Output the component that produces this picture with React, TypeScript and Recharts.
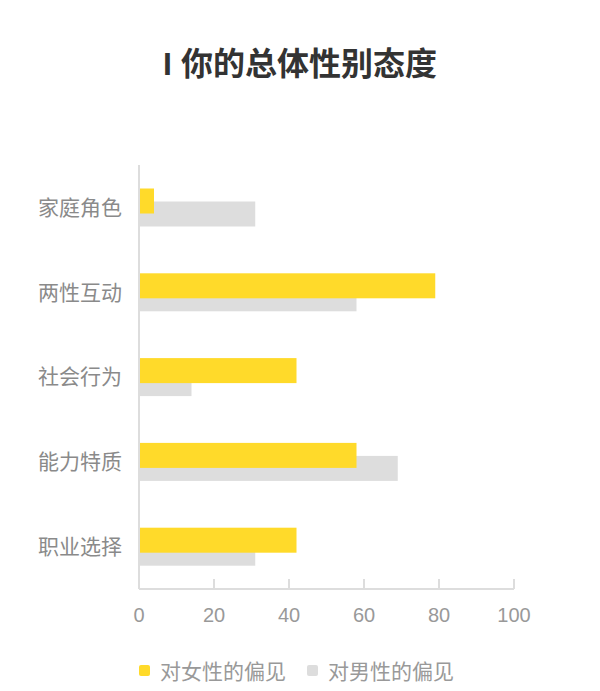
import React from 'react';
import { BarChart, Bar, XAxis, YAxis } from 'recharts';

// 分类与数值（自上而下）
const categories = ['家庭角色', '两性互动', '社会行为', '能力特质', '职业选择'];
const femaleBias = [4, 79, 42, 58, 42];
const maleBias = [31, 58, 14, 69, 31];
const xTicks = [0, 20, 40, 60, 80, 100];

const YELLOW = '#FFDA2A';
const GRAY = '#DDDDDD';
const FONT = "'Liberation Sans', 'Noto Sans CJK SC', sans-serif";

const data = categories.map((name, i) => ({
  name,
  female: femaleBias[i],
  male: maleBias[i],
}));

// both bars share the band centre; shift them apart so yellow sits above and on top
const shiftedBar = (dy: number, fill: string) => (props: any) => (
  <rect x={props.x} y={props.y + dy} width={props.width} height={props.height} fill={fill} />
);

const XTick = ({ x, y, payload }: any) => (
  <g>
    <line x1={x} x2={x} y1={y - 10} y2={y} stroke={GRAY} strokeWidth={2} />
    <text x={x} y={y + 33} textAnchor="middle" fill="#999" fontSize={20} fontFamily={FONT}>
      {payload.value}
    </text>
  </g>
);

export default function App() {
  return (
    <div style={{ position: 'absolute', left: 0, top: 0, width: 600, height: 691, background: '#fff', fontFamily: FONT }}>
      <div
        style={{
          position: 'absolute',
          top: 48,
          left: 0,
          width: 600,
          textAlign: 'center',
          fontSize: 32,
          lineHeight: '32px',
          fontWeight: 'bold',
          color: '#333',
        }}
      >
        I 你的总体性别态度
      </div>

      <BarChart
        width={600}
        height={691}
        data={data}
        layout="vertical"
        margin={{ top: 165, right: 86, left: 0, bottom: 72 }}
        barSize={25}
        barGap={-25}
      >
        <XAxis
          type="number"
          domain={[0, 100]}
          ticks={xTicks}
          height={30}
          axisLine={{ stroke: GRAY, strokeWidth: 2 }}
          tickLine={false}
          tickSize={0}
          tickMargin={0}
          tick={<XTick />}
        />
        <YAxis
          type="category"
          dataKey="name"
          width={139}
          axisLine={{ stroke: GRAY, strokeWidth: 2 }}
          tickLine={false}
          tickSize={0}
          tickMargin={17}
          tick={{ fill: '#8a8a8a', fontSize: 21, fontFamily: FONT }}
        />
        <Bar dataKey="male" fill={GRAY} isAnimationActive={false} shape={shiftedBar(6.5, GRAY)} />
        <Bar dataKey="female" fill={YELLOW} isAnimationActive={false} shape={shiftedBar(-6.5, YELLOW)} />
      </BarChart>

      {/* Legend */}
      <div
        style={{
          position: 'absolute',
          top: 655,
          left: 139,
          height: 30,
          display: 'flex',
          alignItems: 'center',
          fontSize: 21,
          color: '#999',
        }}
      >
        <span style={{ width: 11, height: 11, background: YELLOW, borderRadius: 2, marginRight: 10 }} />
        <span style={{ marginRight: 21 }}>对女性的偏见</span>
        <span style={{ width: 11, height: 11, background: GRAY, borderRadius: 2, marginRight: 10 }} />
        <span>对男性的偏见</span>
      </div>
    </div>
  );
}
